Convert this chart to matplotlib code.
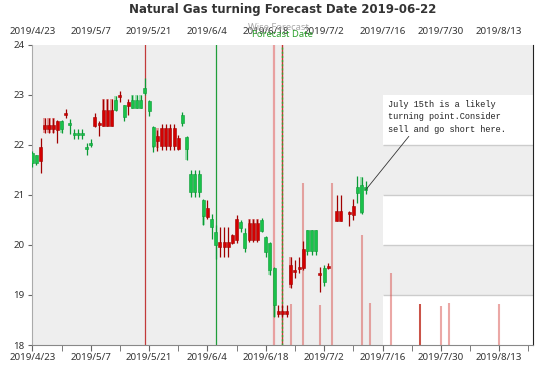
import numpy as np
import pandas as pd
import matplotlib
matplotlib.use("Agg")
import matplotlib.pyplot as plt
import matplotlib.transforms as mtransforms

# data (day offset from 2019-04-23)
start_date = "2019-04-23"
opens = [21.84, 21.79, 21.68, 22.31, 22.31, 22.31, 22.29, 22.48, 22.60, 22.43,
         22.23, 22.23, 22.23, 21.96, 22.03, 22.37, 22.39, 22.38, 22.38, 22.38,
         22.89, 22.96, 22.79, 22.78, 22.90, 22.90, 22.90, 23.14, 22.88, 22.36,
         22.07, 21.98, 21.98, 21.98, 21.98, 21.91, 22.59, 22.15, 21.41, 21.41,
         21.41, 20.89, 20.55, 20.51, 20.26, 19.95, 19.95, 19.95, 20.04, 20.10,
         20.46, 20.24, 20.10, 20.10, 20.10, 20.49, 20.16, 20.03, 19.53, 18.62,
         18.62, 18.62, 19.22, 19.45, 19.52, 19.53, 20.30, 20.30, 20.30, 19.40,
         19.53, 19.54, np.nan, 20.48, 20.48, np.nan, 20.62, 20.60, 21.15, 21.19,
         21.16]
closes = [21.64, 21.63, 21.96, 22.39, 22.39, 22.39, 22.47, 22.31, 22.63, 22.40,
          22.19, 22.19, 22.19, 21.91, 22.00, 22.56, 22.42, 22.70, 22.70, 22.70,
          22.70, 22.98, 22.56, 22.85, 22.74, 22.74, 22.74, 23.04, 22.67, 21.98,
          22.18, 22.33, 22.33, 22.33, 22.33, 22.13, 22.43, 21.91, 21.05, 21.05,
          21.05, 20.58, 20.73, 20.35, 20.00, 20.05, 20.05, 20.05, 20.20, 20.51,
          20.34, 19.94, 20.43, 20.43, 20.43, 20.27, 19.86, 19.50, 18.80, 18.68,
          18.68, 18.68, 19.60, 19.47, 19.55, 19.91, 19.87, 19.87, 19.87, 19.44,
          19.25, 19.58, np.nan, 20.68, 20.68, np.nan, 20.64, 20.77, 21.03, 20.66,
          21.10]
highs = [21.87, 21.80, 22.14, 22.54, 22.54, 22.54, 22.49, 22.49, 22.72, 22.52,
         22.32, 22.32, 22.32, 22.04, 22.11, 22.64, 22.47, 22.92, 22.92, 22.92,
         22.97, 23.07, 22.80, 22.92, 22.99, 22.99, 23.00, 23.33, 22.90, 22.37,
         22.30, 22.42, 22.42, 22.42, 22.42, 22.19, 22.66, 22.17, 21.50, 21.50,
         21.50, 20.92, 20.89, 20.62, 20.40, 20.35, 20.35, 20.35, 20.22, 20.59,
         20.49, 20.33, 20.52, 20.52, 20.52, 20.54, 20.17, 20.05, 19.55, 18.80,
         18.80, 18.80, 19.76, 19.69, 19.75, 20.08, 20.30, 20.30, 20.30, 19.55,
         19.60, 19.63, np.nan, 21.00, 21.00, np.nan, 20.67, 20.92, 21.37, 21.36,
         21.27]
lows = [21.56, 21.59, 21.44, 22.23, 22.24, 22.24, 22.04, 22.23, 22.54, 22.21,
        22.11, 22.11, 22.11, 21.79, 21.95, 22.36, 22.17, 22.37, 22.37, 22.37,
        22.68, 22.85, 22.48, 22.59, 22.73, 22.73, 22.73, 23.00, 22.58, 21.86,
        21.88, 21.89, 21.89, 21.89, 21.89, 21.90, 22.37, 21.70, 20.95, 20.95,
        20.95, 20.40, 20.52, 20.12, 19.72, 19.75, 19.75, 19.75, 20.01, 20.03,
        20.26, 19.85, 20.05, 20.05, 20.05, 20.25, 19.76, 19.40, 18.56, 18.55,
        18.55, 18.55, 19.13, 19.33, 19.43, 19.50, 19.80, 19.80, 19.80, 19.05,
        19.17, 19.52, np.nan, 20.47, 20.47, np.nan, 20.37, 20.49, 20.83, 20.62,
        21.01]

# pale (lighter) ranges drawn behind some candles
pale_days = [3, 4, 5, 7, 17, 18, 19, 20, 24, 25, 26, 29, 30, 37, 41, 52, 53, 54, 57, 58, 62, 79]
pale_lo = [22.23, 22.24, 22.24, 22.23, 22.70, 22.70, 22.70, 22.70, 22.90, 22.90, 22.90,
           21.93, 21.93, 21.70, 20.40, 20.43, 20.43, 20.43, 19.40, 18.56, 19.13, 20.62]
pale_hi = [22.54, 22.54, 22.54, 22.48, 22.92, 22.92, 22.92, 22.97, 23.00, 23.00, 23.00,
           21.98, 22.33, 21.91, 20.58, 20.52, 20.52, 20.52, 19.50, 18.80, 19.76, 21.36]

# signal bars rising from the bottom
signal_days = [62, 65, 69, 72, 79, 81, 86, 93, 98, 100, 112]
signal_tops = [18.82, 21.23, 18.80, 21.23, 20.20, 18.83, 19.43, 18.82, 18.78, 18.83, 18.81]

red_line_day = 27      # 2019-05-20
green_line_day = 44    # 2019-06-06
pink_line_day = 58     # 2019-06-20
forecast_day = 60      # 2019-06-22
future_start = 84      # 2019-07-16
note_day = 80

tick_days = list(range(0, 113, 14))
tick_labels = [f"{d.year}/{d.month}/{d.day}" for d in pd.date_range(start_date, periods=len(tick_days), freq="14D")]
note = "July 15th is a likely\nturning point.Consider\nsell and go short here."

plt.rcParams['font.family'] = ['Noto Sans', 'DejaVu Sans']

fig = plt.figure(figsize=(5.48, 3.68), dpi=100)
ax = fig.add_axes([31.7 / 548, 1 - 345 / 368, (533 - 31.7) / 548, (345 - 44.5) / 368])
ax.set_facecolor('#eeeeee')
x_right = 120.1
ax.set_xlim(-0.15, x_right)
ax.set_ylim(18, 24)

# white bands in the future region
for lo in [18, 20, 22]:
    ax.fill_between([future_start, x_right], lo, lo + 1, color='white', lw=0, zorder=0.5)
ax.hlines([19, 20, 21, 22], future_start, x_right, color='#cccccc', lw=1, zorder=0.6)

# signal bars
ax.vlines(signal_days, 18, signal_tops, color='#d9534f', alpha=0.5, lw=1.5, zorder=1)
ax.vlines([93], 18, [signal_tops[signal_days.index(93)]], color='#c0392b', alpha=0.9, lw=1.2, zorder=1)

# vertical marker lines
ax.axvline(red_line_day, color='#c23a3a', lw=0.9, zorder=2)
ax.axvline(green_line_day + 0.15, color='#b53030', lw=0.4, zorder=2)
ax.axvline(green_line_day - 0.05, color='#1f9e3a', lw=0.9, zorder=2.05)
ax.axvline(pink_line_day, color='#e8a0a0', lw=1.6, zorder=2)
ax.axvline(forecast_day, color='#cc3333', lw=1.0, zorder=2)
ax.axvline(forecast_day, color='#33aa33', lw=1.0, ls=(0, (1.5, 1.5)), zorder=2.1)

# candles (red = up, green = down)
red_face, red_edge = '#d40000', '#a00000'
green_face, green_edge = '#19c24a', '#0a9a35'
for d, lo, hi in zip(pale_days, pale_lo, pale_hi):
    up = closes[d] >= opens[d]
    ax.bar(d, hi - lo, bottom=lo, width=0.72, color=red_face if up else green_face,
           alpha=0.35, lw=0, zorder=2.5)
for i, (o, c, h, l) in enumerate(zip(opens, closes, highs, lows)):
    if np.isnan(o):
        continue
    up = c >= o
    face = red_face if up else green_face
    edge = red_edge if up else green_edge
    ax.vlines(i, l, h, color=edge, lw=0.9, zorder=3)
    ax.bar(i, max(abs(c - o), 0.04), bottom=min(o, c), width=0.72, color=face,
           edgecolor=edge, lw=0.4, zorder=4)

# annotation
ax.annotate(note, xy=(note_day, closes[note_day]), xytext=(future_start + 1.2, 22.9),
            ha='left', va='top', fontsize=6.2, family='Liberation Mono', color='#222222',
            linespacing=1.5, zorder=6,
            arrowprops=dict(arrowstyle='-', color='#333333', lw=0.6,
                            shrinkA=0, shrinkB=0, relpos=(0.2, 0)))

# forecast labels above the axes
trans = mtransforms.blended_transform_factory(ax.transData, ax.transAxes)
ax.text(forecast_day - 1, 1.057, 'Wise Forecast', transform=trans, ha='center', va='center',
        fontsize=6.8, color='#aaaaaa', clip_on=False)
ax.text(forecast_day, 1.033, 'Forecast Date', transform=trans, ha='center', va='center',
        fontsize=6.8, color='#2ca02c', clip_on=False)

# axes styling
ax.set_xticks(tick_days)
ax.set_xticklabels(tick_labels)
ax.set_xticks(list(range(7, 121, 14)), minor=True)
ax.set_yticks(range(18, 25))
ax.tick_params(axis='x', which='both', length=4, color='#666666', labelsize=7,
               labelcolor='#333333', pad=2)
ax.tick_params(axis='y', length=3, color='#666666', labelsize=7, labelcolor='#333333', pad=2)
ax.spines['top'].set_visible(False)
ax.spines['left'].set_color('#aaaaaa')
ax.spines['bottom'].set_color('#888888')
ax.spines['right'].set_color('#222222')

top = ax.secondary_xaxis('top')
top.set_xticks(tick_days)
top.set_xticklabels(tick_labels)
top.tick_params(length=0, labelsize=7, labelcolor='#333333', pad=6)
top.spines['top'].set_visible(False)

fig.text((31.7 + 533) / 2 / 548, 1 - 10 / 368, 'Natural Gas turning Forecast Date 2019-06-22',
         ha='center', va='center', fontsize=8.5, fontweight='bold', family='DejaVu Sans',
         color='#333333')

fig.savefig('out.png', dpi=100)
